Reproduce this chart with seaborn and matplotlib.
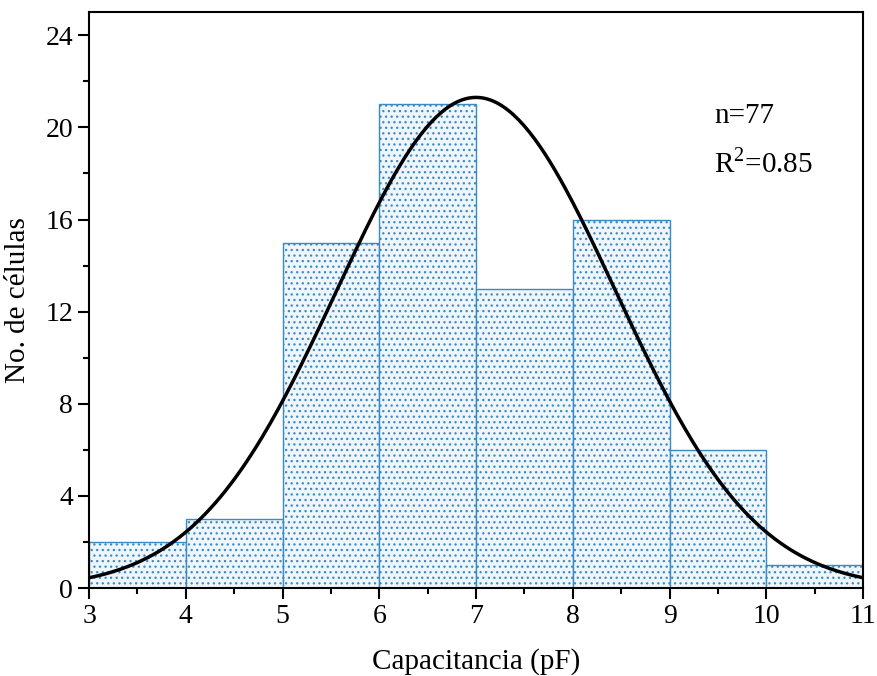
import numpy as np
import pandas as pd
import seaborn as sns
import matplotlib.pyplot as plt
from matplotlib.ticker import MultipleLocator

# histogram data (bin edges in pF, counts per bin)
bin_edges = [3, 4, 5, 6, 7, 8, 9, 10, 11]
counts = [2, 3, 15, 21, 13, 16, 6, 1]

# gaussian fit parameters
fit_center = 7.0
fit_sigma = 1.44
fit_amp = 21.3
r_squared = 0.85

sns.set_style("ticks")
plt.rcParams["font.family"] = ["Liberation Serif", "DejaVu Serif"]
plt.rcParams["mathtext.fontset"] = "custom"
plt.rcParams["mathtext.rm"] = "Liberation Serif"
plt.rcParams["hatch.linewidth"] = 0.9
for key in ["text.color", "axes.labelcolor", "xtick.color", "ytick.color"]:
    plt.rcParams[key] = "black"

centers = [(a + b) / 2 for a, b in zip(bin_edges[:-1], bin_edges[1:])]
df = pd.DataFrame({"cap": centers, "n": counts})

fig, ax = plt.subplots(figsize=(8.78, 6.76), dpi=100)
fig.subplots_adjust(left=0.1014, right=0.983, top=0.982, bottom=0.130)

sns.histplot(data=df, x="cap", weights="n", bins=bin_edges, ax=ax,
             facecolor="#eef6fc", edgecolor="#3a8ac4", linewidth=1.0,
             hatch="...", alpha=1)

xs = np.linspace(bin_edges[0], bin_edges[-1], 300)
ys = fit_amp * np.exp(-(xs - fit_center) ** 2 / (2 * fit_sigma ** 2))
sns.lineplot(x=xs, y=ys, ax=ax, color="black", linewidth=2.5)

ax.set_xlim(3, 11)
ax.set_ylim(0, 25)
ax.xaxis.set_major_locator(MultipleLocator(1))
ax.xaxis.set_minor_locator(MultipleLocator(0.5))
ax.yaxis.set_major_locator(MultipleLocator(4))
ax.yaxis.set_minor_locator(MultipleLocator(2))
ax.tick_params(which="major", direction="out", length=8, width=1.5, labelsize=20)
ax.tick_params(which="minor", direction="out", length=4, width=1.5)
for sp in ax.spines.values():
    sp.set_linewidth(1.5)
    sp.set_color("black")
    sp.set_visible(True)

ax.set_xlabel("Capacitancia (pF)", fontsize=21, labelpad=14)
ax.set_ylabel("No. de células", fontsize=21, labelpad=10)

ax.text(9.46, 20.2, f"n={sum(counts)}", fontsize=21)
ax.text(9.46, 18.05, "R$^{2}$=" + f"{r_squared:.2f}", fontsize=21)

fig.savefig("out.png", dpi=100)
